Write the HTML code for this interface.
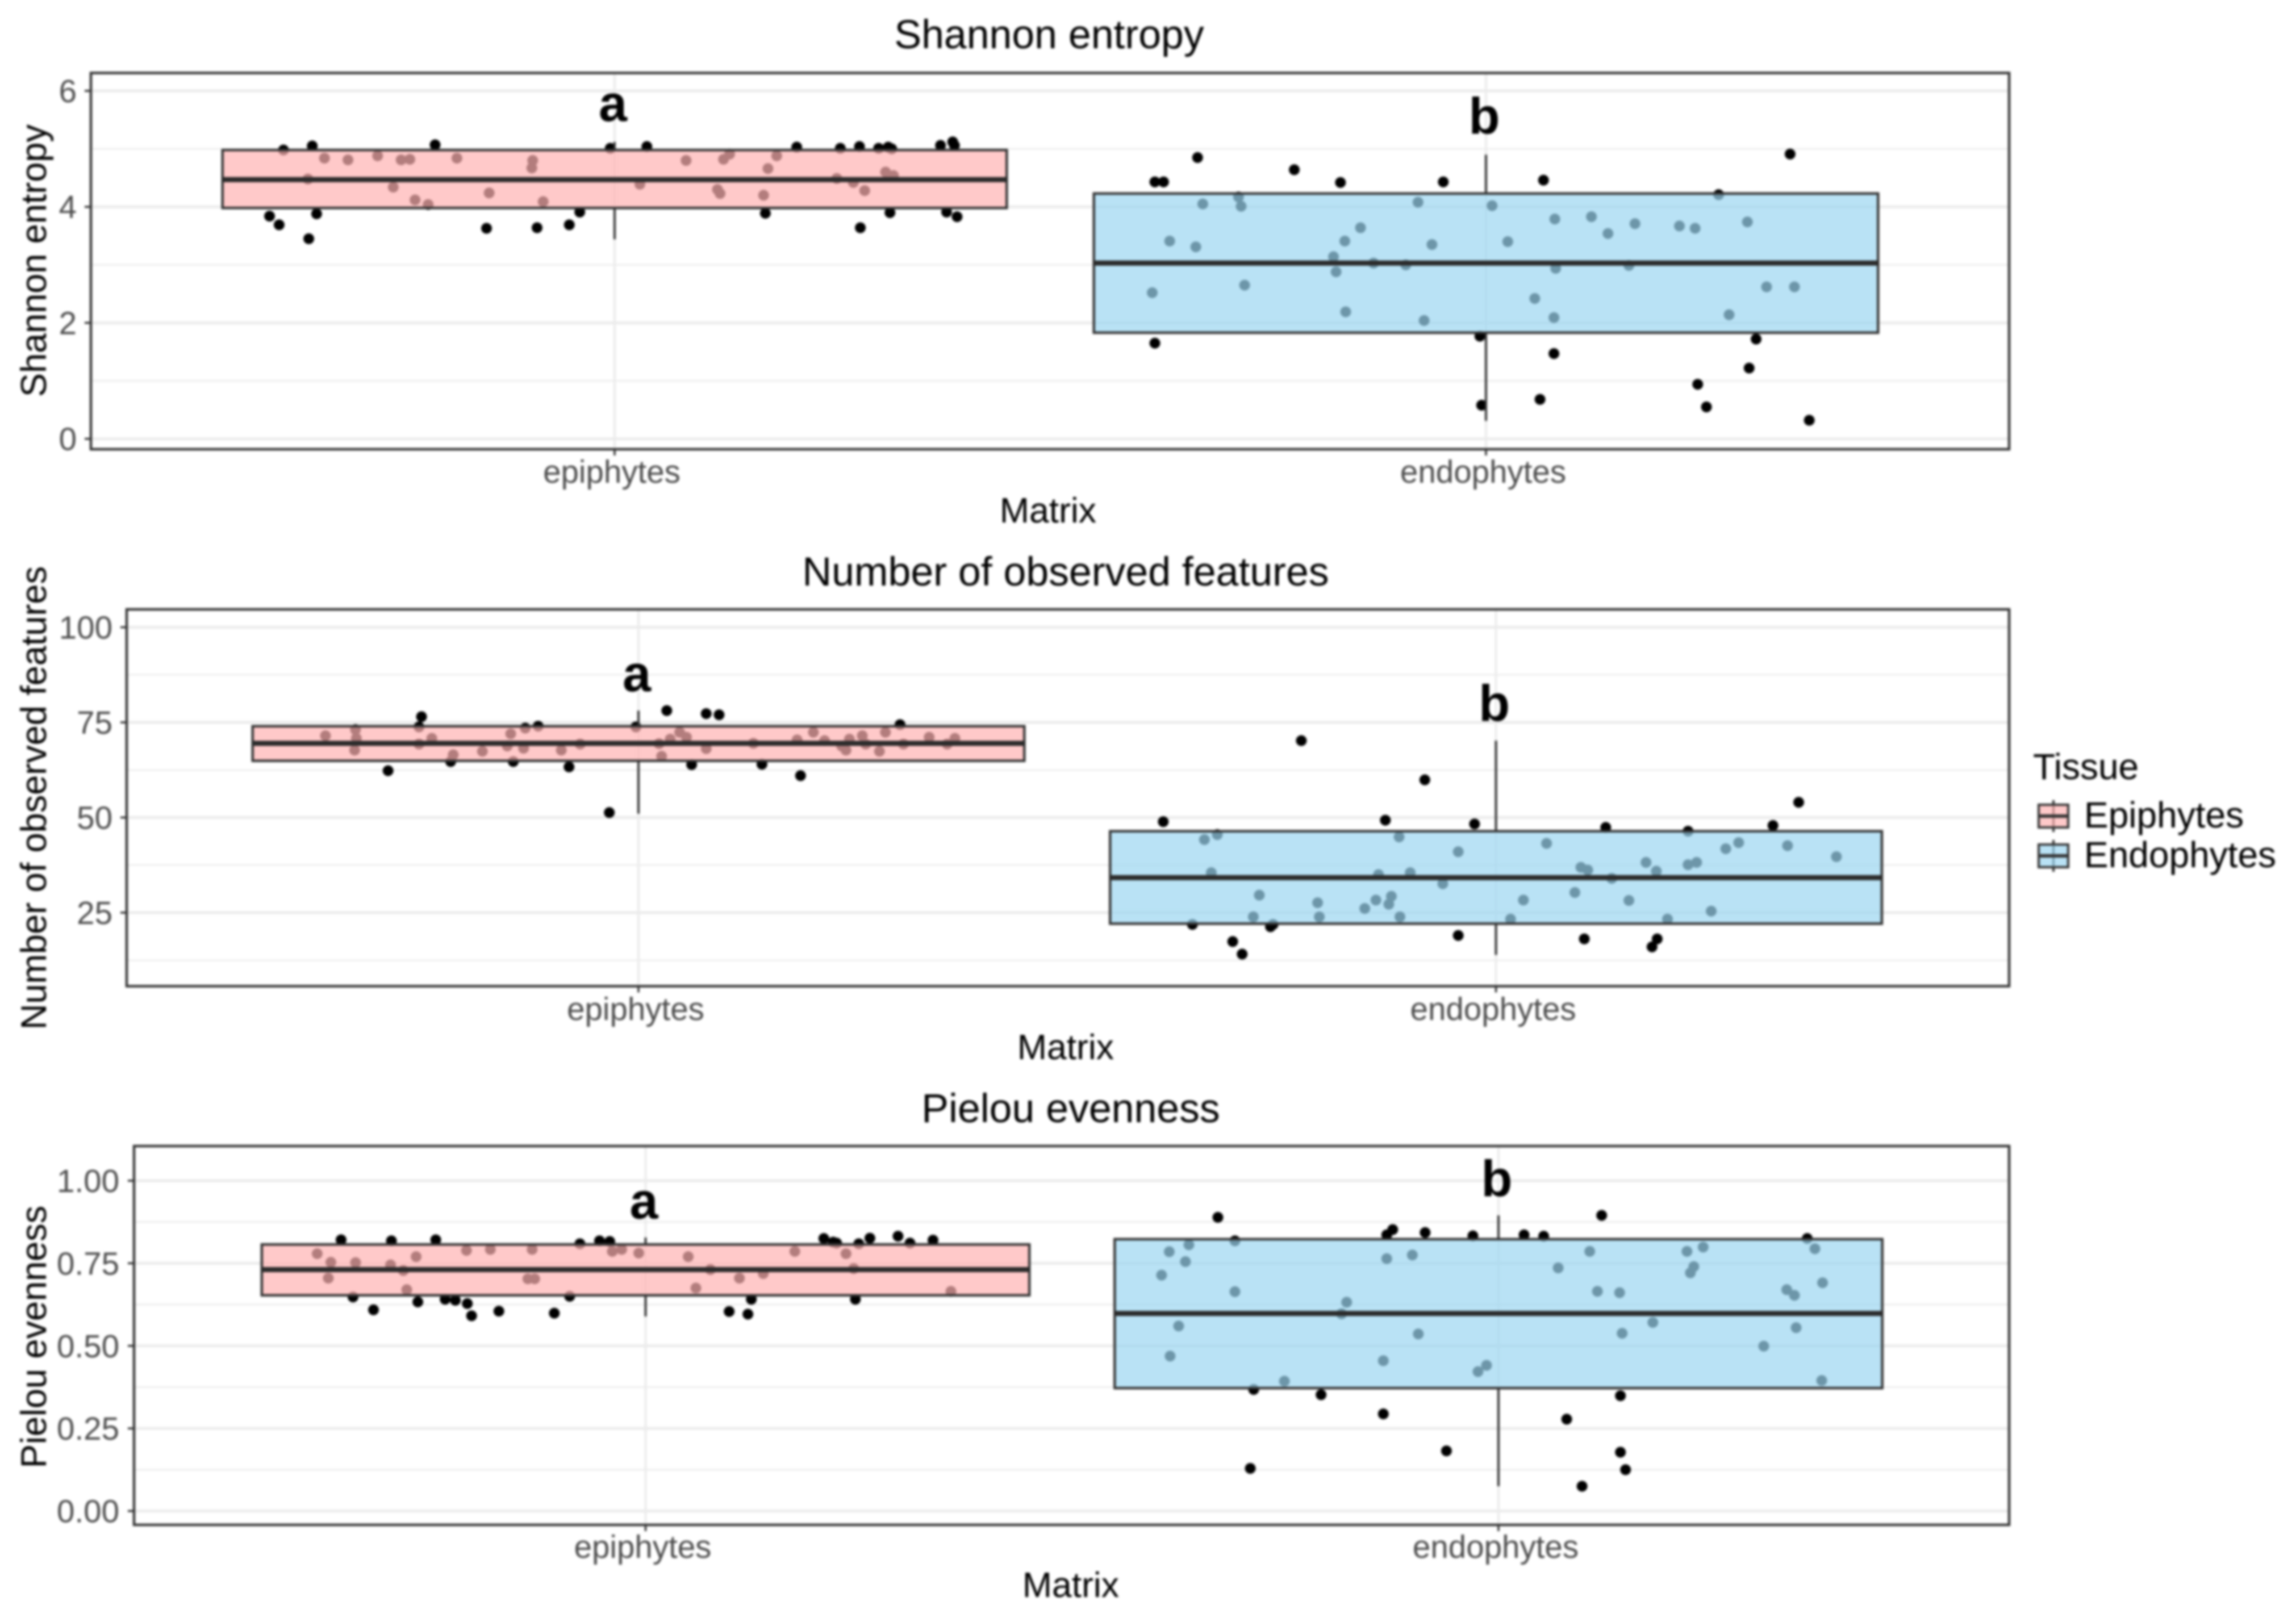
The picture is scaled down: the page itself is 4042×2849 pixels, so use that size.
<!DOCTYPE html>
<html lang="en">
<head>
<meta charset="utf-8">
<title>Alpha diversity boxplots</title>
<style>
html,body{margin:0;padding:0;background:#fff;}
#chart{display:block;width:4042px;height:2849px;filter:blur(2.2px);}
text{font-family:"Liberation Sans",Arial,sans-serif;}
</style>
</head>
<body>
<svg id="chart" xmlns="http://www.w3.org/2000/svg" width="4042" height="2849" viewBox="0 0 4042 2849"></svg>
<script>
var categories = ['epiphytes', 'endophytes'];
var legendLabels = ['Epiphytes', 'Endophytes'];
var panelTitles = ['Shannon entropy', 'Number of observed features', 'Pielou evenness'];
var letterLabels = ['a', 'b'];

var shannonMajorTicks = [0, 2, 4, 6];
var shannonMinorTicks = [1, 3, 5];
var shannonTickLabels = ['0', '2', '4', '6'];
var featuresMajorTicks = [25, 50, 75, 100];
var featuresMinorTicks = [12.5, 37.5, 62.5, 87.5];
var featuresTickLabels = ['25', '50', '75', '100'];
var pielouMajorTicks = [0, 0.25, 0.5, 0.75, 1];
var pielouMinorTicks = [0.125, 0.375, 0.625, 0.875];
var pielouTickLabels = ['0.00', '0.25', '0.50', '0.75', '1.00'];

// box stats: [whisker low, q1, median, q3, whisker high]
var shannonEpiStats = [3.44, 3.98, 4.47, 4.98, 5.12];
var shannonEndoStats = [0.31, 1.83, 3.03, 4.23, 4.90];
var featuresEpiStats = [51, 64.9, 69.5, 74.0, 78.1];
var featuresEndoStats = [13.9, 22.1, 34.2, 46.4, 70.2];
var pielouEpiStats = [0.589, 0.653, 0.731, 0.807, 0.828];
var pielouEndoStats = [0.075, 0.372, 0.598, 0.823, 0.895];

// annotation letter heights, in data units
var shannonLetterY = [5.48, 5.26];
var featuresLetterY = [83.2, 75.4];
var pielouLetterY = [0.886, 0.953];

// jitter = horizontal offset from category centre in category-band units
var shannonEpiJitter = [-.380,-.347,-.206,-.005,.037,.209,.259,.281,.303,.314,.318,.374,.388,.390,-.396,-.385,-.342,-.351,-.147,-.089,-.052,-.040,.173,.282,.316,.381,.393,-.333,-.306,-.272,-.245,-.235,-.181,-.094,-.095,.132,.125,.082,.186,.176,-.352,-.254,-.229,-.214,-.144,-.082,.029,.118,.121,.171,.255,.274,.287,.311,.320];
var shannonEpiValues = [4.98,5.05,5.07,5.01,5.04,5.03,5.01,5.04,5.01,5.03,5.00,5.06,5.12,5.06,3.84,3.69,3.88,3.45,3.63,3.64,3.69,3.91,3.89,3.64,3.90,3.91,3.83,4.84,4.81,4.88,4.81,4.82,4.84,4.80,4.67,4.91,4.82,4.80,4.88,4.66,4.48,4.34,4.12,4.04,4.24,4.09,4.39,4.30,4.23,4.20,4.49,4.42,4.28,4.60,4.54];
var shannonEndoJitter = [-.331,-.220,-.380,-.370,-.167,-.049,.066,.349,.267,-.380,-.007,.310,.078,.302,.243,.062,-.005,.253,.371,-.325,-.284,-.281,-.078,.007,.079,.121,.171,.140,.222,.240,.300,-.144,-.162,-.363,-.333,-.062,.025,-.175,-.172,-.129,-.092,.080,.164,-.383,-.277,.322,.354,.056,-.161,.078,.279,-.071];
var shannonEndoValues = [4.85,4.64,4.43,4.43,4.42,4.43,4.46,4.91,4.21,1.65,1.77,1.72,1.47,1.22,.94,.68,.58,.55,.32,4.05,4.17,4.01,4.08,4.02,3.79,3.83,3.71,3.54,3.67,3.63,3.74,3.64,3.41,3.41,3.31,3.35,3.40,3.14,2.88,3.03,3.00,2.94,2.99,2.52,2.65,2.62,2.62,2.42,2.19,2.09,2.14,2.04];

var featuresEpiJitter = [-.253,-.256,-.117,-.003,.033,.079,.094,.305,-.292,-.219,-.146,-.081,.062,.144,.189,-.034,-.365,-.330,-.329,-.331,-.256,-.241,-.216,-.182,-.153,-.149,-.132,-.134,-.090,-.068,.024,.027,.037,.048,.056,.079,.134,.185,.204,.217,.237,.246,.242,.261,.265,.281,.288,.309,.339,.360,.369];
var featuresEpiValues = [76.5,73.8,74.0,73.8,78.1,77.3,77.0,74.4,62.3,64.7,64.7,63.3,63.9,64.0,61.0,51.3,71.5,73.1,70.8,67.7,69.3,70.8,66.5,67.4,68.8,72.0,73.5,68.2,67.7,69.3,69.4,66.1,70.6,72.4,71.1,68.1,69.5,70.4,72.4,70.2,68.8,70.6,67.7,71.5,69.3,67.4,72.4,69.3,71.1,69.3,70.8];
var featuresEndoJitter = [-.227,-.083,-.388,-.129,-.025,.128,.224,.323,.353,-.354,-.260,-.263,-.307,-.296,-.044,.103,.188,.182,-.325,-.340,-.113,-.044,.059,.268,.283,.340,.397,.175,.234,.224,.099,.107,.187,-.332,-.137,-.100,.135,-.062,-.276,.092,.032,.155,-.208,-.122,-.125,-.140,-.153,.251,-.283,-.206,-.112,.017,.200];
var featuresEndoValues = [70.2,59.9,48.9,49.3,48.3,47.4,46.4,47.9,54.0,21.9,21.9,21.3,17.4,14.1,19.0,18.1,18.1,16.0,45.5,44.2,44.9,41.0,43.2,41.8,43.4,42.6,39.7,38.2,38.2,37.6,36.9,36.2,35.9,35.5,35.0,35.5,34.0,32.6,29.6,30.3,28.3,28.2,27.6,29.3,27.2,28.3,26.1,25.4,23.9,23.9,23.9,23.3,23.3];

var pielouEpiJitter = [-.357,-.298,-.246,-.077,-.054,-.042,.209,.220,.224,.250,.263,.296,.310,.337,-.343,-.319,-.267,-.235,-.223,-.209,-.204,-.172,-.107,-.089,.098,.120,.124,.246,-.385,-.369,-.340,-.372,-.299,-.269,-.284,-.280,-.210,-.182,-.133,-.138,-.130,-.039,-.028,-.008,.050,.076,.059,.110,.138,.175,.235,.244,.358];
var pielouEpiValues = [.821,.818,.821,.809,.818,.816,.825,.814,.811,.809,.826,.832,.811,.820,.648,.609,.633,.641,.638,.628,.591,.605,.599,.650,.604,.596,.641,.641,.779,.753,.752,.705,.745,.770,.728,.670,.789,.792,.792,.703,.703,.786,.792,.781,.770,.731,.675,.705,.719,.786,.779,.734,.665];
var pielouEndoJitter = [-.329,.121,-.124,-.131,-.086,-.030,.030,.053,.362,-.287,-.208,.143,-.135,.080,-.061,.143,.149,-.291,.098,-.309,-.363,-.386,-.367,-.395,-.309,-.131,-.101,.107,.070,.116,.142,.221,.240,.229,.225,.371,.380,.338,.347,-.178,-.184,-.375,-.385,-.094,.145,.181,.349,.311,-.135,-.014,-.024,-.251,.379];
var pielouEndoValues = [.889,.895,.852,.836,.843,.833,.836,.832,.825,.368,.352,.349,.294,.278,.182,.178,.125,.129,.075,.818,.806,.785,.755,.714,.664,.764,.775,.786,.736,.665,.661,.786,.799,.740,.721,.794,.691,.670,.653,.632,.597,.560,.469,.536,.538,.571,.555,.499,.455,.441,.422,.393,.395];

var svg = document.getElementById('chart');
var NS = 'http://www.w3.org/2000/svg';
var GRID = '#ebebeb', INK = '#333333', TICKTEXT = '#4d4d4d';
var FILLS = ['#ffb2b2', '#9bd6f1'];
var BOX_OPACITY = 0.7;

function mk(tag, attrs, parent, txt) {
  var el = document.createElementNS(NS, tag);
  for (var k in attrs) { el.setAttribute(k, attrs[k]); }
  if (txt !== undefined) { el.textContent = txt; }
  parent.appendChild(el);
  return el;
}

function linearScale(valA, pxA, valB, pxB) {
  return function (v) { return pxA + (v - valA) * (pxB - pxA) / (valB - valA); };
}

var panels = [
  { key: 'shannon', title: panelTitles[0], major: shannonMajorTicks, minor: shannonMinorTicks, labels: shannonTickLabels,
    letterY: shannonLetterY, stats: [shannonEpiStats, shannonEndoStats],
    jitter: [shannonEpiJitter, shannonEndoJitter], values: [shannonEpiValues, shannonEndoValues],
    left: 160, right: 3537, top: 128.5, bottom: 791, yScale: linearScale(0, 772.7, 6, 160),
    centers: [1082, 2616], band: 1534, titleX: 1847, titleY: 85, tickLabelY: 850, xTitleX: 1845, xTitleY: 920,
    yLabelRight: 135, yTitleX: 81, yTitleY: 459 },
  { key: 'features', title: panelTitles[1], major: featuresMajorTicks, minor: featuresMinorTicks, labels: featuresTickLabels,
    letterY: featuresLetterY, stats: [featuresEpiStats, featuresEndoStats],
    jitter: [featuresEpiJitter, featuresEndoJitter], values: [featuresEpiValues, featuresEndoValues],
    left: 223, right: 3537, top: 1073, bottom: 1736.5, yScale: linearScale(25, 1607, 100, 1104.5),
    centers: [1124, 2633.6], band: 1509.6, titleX: 1876, titleY: 1031, tickLabelY: 1796, xTitleX: 1876, xTitleY: 1865,
    yLabelRight: 198, yTitleX: 81, yTitleY: 1405 },
  { key: 'pielou', title: panelTitles[2], major: pielouMajorTicks, minor: pielouMinorTicks, labels: pielouTickLabels,
    letterY: pielouLetterY, stats: [pielouEpiStats, pielouEndoStats],
    jitter: [pielouEpiJitter, pielouEndoJitter], values: [pielouEpiValues, pielouEndoValues],
    left: 236, right: 3537, top: 2018, bottom: 2685, yScale: linearScale(0, 2660.6, 1, 2079),
    centers: [1136.5, 2638], band: 1501.5, titleX: 1885, titleY: 1976, tickLabelY: 2743, xTitleX: 1885, xTitleY: 2812,
    yLabelRight: 210, yTitleX: 81, yTitleY: 2354 }
];

panels.forEach(function (p) {
  var g = mk('g', {}, svg);
  
  

  var title = mk('text', { x: p.titleX, y: p.titleY, 'text-anchor': 'middle', 'font-size': 71.6, fill: '#000' }, g, p.title);
  
  

  p.minor.forEach(function (v) {
    var line = mk('line', { x1: p.left, x2: p.right, y1: p.yScale(v), y2: p.yScale(v), stroke: GRID, 'stroke-width': 2.6 }, g);
    
    
  });
  p.major.forEach(function (v) {
    var line = mk('line', { x1: p.left, x2: p.right, y1: p.yScale(v), y2: p.yScale(v), stroke: GRID, 'stroke-width': 5 }, g);
    
    
  });
  p.centers.forEach(function (cx) {
    var line = mk('line', { x1: cx, x2: cx, y1: p.top, y2: p.bottom, stroke: GRID, 'stroke-width': 4 }, g);
    
    
  });

  categories.forEach(function (cat, i) {
    var cx = p.centers[i];
    var xOf = function (j) { return cx + j * p.band; };
    var jit = p.jitter[i], vals = p.values[i];
    for (var n = 0; n < vals.length; n++) {
      var pt = mk('circle', { cx: xOf(jit[n]), cy: p.yScale(vals[n]), r: 9.5, fill: '#000' }, g);
      
      
    }
    var s = p.stats[i];
    var halfBox = 0.45 * p.band;
    var low = mk('line', { x1: cx, x2: cx, y1: p.yScale(s[1]), y2: p.yScale(s[0]), stroke: INK, 'stroke-width': 4 }, g);
    
    
    var high = mk('line', { x1: cx, x2: cx, y1: p.yScale(s[3]), y2: p.yScale(s[4]), stroke: INK, 'stroke-width': 4 }, g);
    
    
    var box = mk('rect', { x: cx - halfBox, width: 2 * halfBox, y: p.yScale(s[3]), height: p.yScale(s[1]) - p.yScale(s[3]),
      fill: FILLS[i], 'fill-opacity': BOX_OPACITY, stroke: INK, 'stroke-width': 4.4 }, g);
    
    
    var med = mk('line', { x1: cx - halfBox, x2: cx + halfBox, y1: p.yScale(s[2]), y2: p.yScale(s[2]), stroke: '#2b2b2b', 'stroke-width': 9 }, g);
    
    

    var letter = mk('text', { x: cx - 3, y: p.yScale(p.letterY[i]), 'text-anchor': 'middle', 'font-size': 90, 'font-weight': 'bold', fill: '#000' }, g, letterLabels[i]);
    
    

    var tick = mk('line', { x1: cx, x2: cx, y1: p.bottom, y2: p.bottom + 11, stroke: INK, 'stroke-width': 3.5 }, g);
    
    
    var lab = mk('text', { x: cx - 5, y: p.tickLabelY, 'text-anchor': 'middle', 'font-size': 56.5, fill: TICKTEXT }, g, cat);
    
    
  });

  p.major.forEach(function (v, i) {
    var tick = mk('line', { x1: p.left - 11, x2: p.left, y1: p.yScale(v), y2: p.yScale(v), stroke: INK, 'stroke-width': 3.5 }, g);
    
    
    var lab = mk('text', { x: p.yLabelRight, y: p.yScale(v) + 20, 'text-anchor': 'end', 'font-size': 56.5, fill: TICKTEXT }, g, p.labels[i]);
    
    
  });

  var border = mk('rect', { x: p.left, y: p.top, width: p.right - p.left, height: p.bottom - p.top, fill: 'none', stroke: INK, 'stroke-width': 4.4 }, g);
  
  

  var xTitle = mk('text', { x: p.xTitleX, y: p.xTitleY, 'text-anchor': 'middle', 'font-size': 62.5, fill: '#000' }, g, 'Matrix');
  
  

  var yTitle = mk('text', { x: 0, y: 0, transform: 'translate(' + p.yTitleX + ',' + p.yTitleY + ') rotate(-90)', 'text-anchor': 'middle', 'font-size': 63, fill: '#000' }, g, p.title);
  
  
});

var legend = mk('g', {}, svg);


var legendTitle = mk('text', { x: 3579, y: 1372, 'font-size': 64, fill: '#000' }, legend, 'Tissue');



legendLabels.forEach(function (name, i) {
  var top = i === 0 ? 1417 : 1487;
  var mid = top + 20;
  var entry = mk('g', {}, legend);
  
  
  var wh = mk('line', { x1: 3615, x2: 3615, y1: top - 8, y2: top + 48, stroke: INK, 'stroke-width': 4 }, entry);
  
  
  var keyBox = mk('rect', { x: 3589, y: top, width: 52, height: 40, fill: FILLS[i], 'fill-opacity': BOX_OPACITY, stroke: INK, 'stroke-width': 4 }, entry);
  
  
  var keyMed = mk('line', { x1: 3589, x2: 3641, y1: mid, y2: mid, stroke: INK, 'stroke-width': 6 }, entry);
  
  
  var label = mk('text', { x: 3669, y: i === 0 ? 1457 : 1527, 'font-size': 64, fill: '#000' }, entry, name);
  
  
});
</script>
</body>
</html>
